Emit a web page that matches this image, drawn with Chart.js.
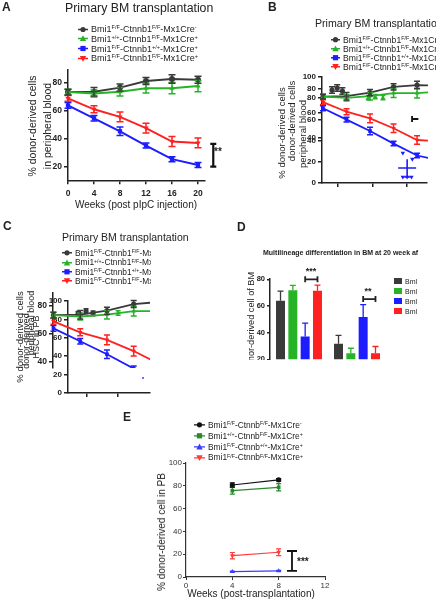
<!DOCTYPE html>
<html><head><meta charset="utf-8">
<script src="https://cdn.jsdelivr.net/npm/chart.js@4.4.1/dist/chart.umd.min.js"></script>
<style>
html,body{margin:0;padding:0;background:#fff;}
body{width:436px;height:600px;overflow:hidden;position:relative;font-family:"Liberation Sans",Arial,Helvetica,sans-serif;color:#222;}
canvas.full{position:absolute;left:0;top:0;}
.tx{position:absolute;white-space:nowrap;line-height:1;}
sup{font-size:62%;vertical-align:0;position:relative;top:-0.55em;line-height:0;}
.clip{position:absolute;overflow:hidden;left:0;top:0;}
.leg{position:absolute;white-space:nowrap;line-height:1;display:flex;align-items:center;overflow:hidden;}
.leg svg{margin-right:3px;flex:none;}
</style></head><body>
<script>
const FONT = '"Liberation Sans", Arial, sans-serif';

// ================= DATA =================
// Panel A (and the overlaid copies in B and C)
const weeksA = [0, 4, 8, 12, 16, 20];
const ctrlA = [73.5, 73.8, 76.7, 81.4, 82.9, 82.3];
const ctrlAErr = [2, 3, 2.5, 2.5, 3, 2.5];
const bmiWtA = [73.5, 72.5, 73.8, 76.3, 76.3, 77.8];
const bmiWtAErr = [2, 2.5, 3, 3.5, 4, 4];
const ctnnbWtA = [64, 54.8, 45.5, 35.3, 25.6, 21.5];
const ctnnbWtAErr = [2, 2, 3, 1.8, 1.8, 1.8];
const dkoA = [69, 61.2, 55.8, 47.8, 38.2, 37.2];
const dkoAErr = [2, 2.5, 3.5, 3.5, 3.5, 3.5];
const yTicksA = [20, 40, 60, 80];

// Legend labels
const namesA = [
  'Bmi1<sup>F/F</sup>-Ctnnb1<sup>F/F</sup>-Mx1Cre<sup>-</sup>',
  'Bmi1<sup>+/+</sup>-Ctnnb1<sup>F/F</sup>-Mx1Cre<sup>+</sup>',
  'Bmi1<sup>F/F</sup>-Ctnnb1<sup>+/+</sup>-Mx1Cre<sup>+</sup>',
  'Bmi1<sup>F/F</sup>-Ctnnb1<sup>F/F</sup>-Mx1Cre<sup>+</sup>'
];
const namesE = [
  'Bmi1<sup>F/F</sup>-Ctnnb<sup>F/F</sup>-Mx1Cre<sup>-</sup>',
  'Bmi1<sup>+/+</sup>-Ctnnb<sup>F/F</sup>-Mx1Cre<sup>+</sup>',
  'Bmi1<sup>F/F</sup>-Ctnnb<sup>+/+</sup>-Mx1Cre<sup>+</sup>',
  'Bmi1<sup>F/F</sup>-Ctnnb<sup>F/F</sup>-Mx1Cre<sup>+</sup>'
];
const namesD = ['Bml', 'Bml', 'Bml', 'Bml'];

// Panel B: main axis ticks and stray marks on its own scale
const yTicksB = [0, 20, 40, 60, 80, 100];
const xTicksB = [4, 8, 12];
const yTicksOverlay = [40, 60, 80];
const bStrayBlackX = [3.3, 3.9, 4.5];
const bStrayBlackY = [87.7, 89.6, 86.8];
const bStrayGreenX = [7.5, 8.3, 9.2];
const bStrayGreenY = [80.5, 81.5, 80.5];
const bStrayBlueX = [11.5, 12.6, 11.5, 12.0, 12.5];
const bStrayBlueY = [28.3, 22.6, 5.7, 5.7, 5.7];

// Panel C: main axis ticks and stray marks
const yTicksC = [0, 20, 40, 60, 80, 100];
const xTicksC = [4, 8];
const cStrayBlackX = [2.84, 3.87, 4.77];
const cStrayBlackY = [86, 89, 86.5];
const cStrayGreenX = [8.0];
const cStrayGreenY = [87];
const cStrayBlueX = [11.2];
const cStrayBlueY = [16.3];

// Panel D: bars
const dCategories = ['Lineage 1', 'Lineage 2'];
const dCtrl = [63.9, 31.6];   const dCtrlErr = [7.3, 6.3];
const dBmiWt = [71.9, 24.5];  const dBmiWtErr = [3.6, 3.8];
const dCtnnbWt = [37.1, 51.8];const dCtnnbWtErr = [10.1, 9.3];
const dDko = [71.4, 24.5];    const dDkoErr = [4.3, 5.1];
const yTicksD = [20, 40, 60, 80];

// Panel E
const weeksE = [4, 8];
const ctrlE = [80.7, 85.2];   const ctrlEErr = [1.8, 1.2];
const bmiWtE = [75.7, 78.7];  const bmiWtEErr = [3, 3.2];
const ctnnbWtE = [4.7, 5.4];  const ctnnbWtEErr = [0.5, 0.5];
const dkoE = [18.7, 21.7];    const dkoEErr = [2.8, 3];
const xTicksE = [0, 4, 8, 12];
const yTicksE = [0, 20, 40, 60, 80, 100];

// ================= STYLE =================
const colA = ['#3a3a3a', '#27b327', '#1c1cff', '#ff2020'];
const colE = ['#111111', '#2a8a2a', '#3b3bff', '#ff3b3b'];
const shapesA = ['circle', 'triangle', 'rect', 'triangleDown'];
const shapesE = ['circle', 'rect', 'triangle', 'triangleDown'];

// ================= HELPERS =================
const errPlugin = {
  id: 'errbars',
  afterDatasetsDraw(chart) {
    const ctx = chart.ctx, ys = chart.scales.y, ca = chart.chartArea;
    chart.data.datasets.forEach((ds, i) => {
      if (!ds.errors) return;
      const meta = chart.getDatasetMeta(i);
      ctx.save();
      if (ds.errClip) { ctx.beginPath(); ctx.rect(ca.left - 8, ca.top - 8, ca.right - ca.left + 8, ca.bottom - ca.top + 8); ctx.clip(); }
      ctx.strokeStyle = ds.errColor || ds.borderColor;
      ctx.lineWidth = ds.errWidth || 1.5;
      meta.data.forEach((el, j) => {
        const e = ds.errors[j]; if (!e) return;
        const raw = ds.data[j]; const v = (typeof raw === 'object') ? raw.y : raw;
        const x = el.x, c = (ds.errCap || 7) / 2;
        const yt = ys.getPixelForValue(v + e), yb = ys.getPixelForValue(ds.errUp ? v : v - e);
        ctx.beginPath();
        ctx.moveTo(x, yt); ctx.lineTo(x, yb);
        ctx.moveTo(x - c, yt); ctx.lineTo(x + c, yt);
        if (!ds.errUp) { ctx.moveTo(x - c, yb); ctx.lineTo(x + c, yb); }
        ctx.stroke();
      });
      ctx.restore();
    });
  }
};

function marksPlugin(marks) {
  return {
    id: 'marks',
    afterDatasetsDraw(chart) {
      const ctx = chart.ctx, xs = chart.scales.x, ys = chart.scales.y;
      marks.forEach(m => {
        ctx.save(); ctx.strokeStyle = m.color || '#111'; ctx.lineWidth = m.w || 1.5;
        ctx.beginPath();
        const c = (m.cap || 6) / 2;
        if (m.t === 'vbar') {
          const x = xs.getPixelForValue(m.x), y1 = ys.getPixelForValue(m.y1), y2 = ys.getPixelForValue(m.y2);
          ctx.moveTo(x, y1); ctx.lineTo(x, y2);
          ctx.moveTo(x - c, y1); ctx.lineTo(x + c, y1); ctx.moveTo(x - c, y2); ctx.lineTo(x + c, y2);
        } else if (m.t === 'tee') {
          const x1 = xs.getPixelForValue(m.x1), x2 = xs.getPixelForValue(m.x2), y = ys.getPixelForValue(m.y);
          ctx.moveTo(x1, y - c); ctx.lineTo(x1, y + c); ctx.moveTo(x1, y); ctx.lineTo(x2, y);
        } else if (m.t === 'plus') {
          const x = xs.getPixelForValue(m.x), y = ys.getPixelForValue(m.y);
          const y1 = ys.getPixelForValue(m.y1), y2 = ys.getPixelForValue(m.y2);
          ctx.moveTo(x - c, y); ctx.lineTo(x + c, y); ctx.moveTo(x, y1); ctx.lineTo(x, y2);
          ctx.moveTo(x - 3, y2); ctx.lineTo(x + 3, y2);
        } else if (m.t === 'barsBracket') {
          const e1 = chart.getDatasetMeta(m.ds1).data[m.i1], e2 = chart.getDatasetMeta(m.ds2).data[m.i2];
          const y = ys.getPixelForValue(m.y);
          ctx.moveTo(e1.x, y); ctx.lineTo(e2.x, y);
          ctx.moveTo(e1.x, y - c); ctx.lineTo(e1.x, y + c); ctx.moveTo(e2.x, y - c); ctx.lineTo(e2.x, y + c);
        }
        ctx.stroke(); ctx.restore();
      });
    }
  };
}

function ptStyle(s) { return s === 'triangleDown' ? 'triangle' : s; }
function ptRot(s) { return s === 'triangleDown' ? 180 : 0; }

function lineDS(xs, ys, errs, color, shape, extra) {
  return Object.assign({
    type: 'line',
    data: xs.map((x, i) => ({ x: x, y: ys[i] })),
    errors: errs,
    borderColor: color, backgroundColor: color,
    borderWidth: 2, pointRadius: 3, pointHoverRadius: 3,
    pointStyle: ptStyle(shape), pointRotation: ptRot(shape),
    pointBorderWidth: 0, tension: 0, fill: false, clip: false
  }, extra || {});
}
function strayDS(xs, ys, color, shape, extra) {
  return Object.assign({
    type: 'scatter', showLine: false,
    data: xs.map((x, i) => ({ x: x, y: ys[i] })),
    borderColor: color, backgroundColor: color,
    pointRadius: 2.6, pointStyle: ptStyle(shape), pointRotation: ptRot(shape), pointBorderWidth: 0, clip: false
  }, extra || {});
}

function makeChart(o) {
  const host = o.host || document.body;
  const cv = document.createElement('canvas');
  cv.width = 436; cv.height = 600; cv.className = 'full';
  host.appendChild(cv);
  const a = o.area;
  const tf = o.tickFont || { family: FONT, size: 8.5, weight: 'bold' };
  const ax = o.axisColor || '#222';
  const xDisp = o.x !== false, yDisp = o.y !== false;
  const grid = { display: true, drawOnChartArea: false, drawTicks: true, tickLength: o.tickLen || 4, color: ax, lineWidth: o.tickW || 1.5 };
  const scales = {};
  if (xDisp) {
    scales.x = {
      type: o.xType || 'linear', min: o.xMin, max: o.xMax, offset: false,
      afterFit: s => { s.height = 600 - a.b; },
      afterBuildTicks: s => { s.ticks = o.xTicks.map(v => ({ value: v })); },
      grid: grid,
      border: { display: o.xBorder !== false, color: ax, width: o.axisW || 1.5 },
      ticks: { font: tf, color: o.tickColor || '#222', padding: o.xPad != null ? o.xPad : 3, maxRotation: 0, autoSkip: false, callback: o.xCb || (v => String(v)) }
    };
  } else {
    scales.x = { type: o.xType || 'linear', min: o.xMin, max: o.xMax, display: false, offset: o.xOffset };
    if (o.xType === 'category') { delete scales.x.min; delete scales.x.max; }
  }
  if (yDisp) {
    scales.y = {
      type: 'linear', min: o.yMin, max: o.yMax,
      afterFit: s => { s.width = a.l; },
      afterBuildTicks: s => { s.ticks = o.yTicks.map(v => ({ value: v })); },
      grid: grid,
      border: { display: o.yBorder !== false, color: ax, width: o.axisW || 1.5 },
      ticks: { font: tf, color: o.tickColor || '#222', padding: o.yPad != null ? o.yPad : 2, callback: o.yCb || (v => String(v)) }
    };
  } else {
    scales.y = { type: 'linear', min: o.yMin, max: o.yMax, display: false };
  }
  return new Chart(cv, {
    type: o.type || 'line',
    data: { labels: o.labels, datasets: o.datasets },
    options: {
      responsive: false, animation: false, devicePixelRatio: 1,
      layout: { autoPadding: false, padding: { left: yDisp ? 0 : a.l, top: a.t, right: 436 - a.r, bottom: xDisp ? 0 : 600 - a.b } },
      plugins: { legend: { display: false }, tooltip: { enabled: false } },
      scales: scales,
      events: []
    },
    plugins: [errPlugin, marksPlugin(o.marks || [])]
  });
}

function svgMarker(c, s, w, lw) {
  const h = 8, cx = w / 2, cy = 4, r = 2.6;
  let m = '';
  if (s === 'circle') m = `<circle cx="${cx}" cy="${cy}" r="${r}" fill="${c}"/>`;
  else if (s === 'rect') m = `<rect x="${cx - r}" y="${cy - r}" width="${2 * r}" height="${2 * r}" fill="${c}"/>`;
  else if (s === 'triangle') m = `<polygon points="${cx},${cy - r - 0.6} ${cx + r + 0.6},${cy + r} ${cx - r - 0.6},${cy + r}" fill="${c}"/>`;
  else if (s === 'square') m = `<rect x="0" y="1" width="${w}" height="6" fill="${c}"/>`;
  else m = `<polygon points="${cx},${cy + r + 0.6} ${cx + r + 0.6},${cy - r} ${cx - r - 0.6},${cy - r}" fill="${c}"/>`;
  const ln = s === 'square' ? '' : `<line x1="0" y1="${cy}" x2="${w}" y2="${cy}" stroke="${c}" stroke-width="${lw || 1.6}"/>`;
  return `<svg width="${w}" height="${h}" viewBox="0 0 ${w} ${h}">${ln}${m}</svg>`;
}

function legend(o) {
  o.names.forEach((n, i) => {
    const d = document.createElement('div');
    d.className = 'leg';
    d.style.left = o.x + 'px';
    d.style.top = (o.y0 + i * o.dy) + 'px';
    d.style.fontSize = o.size + 'px';
    d.style.transform = 'translateY(-50%)';
    d.style.color = o.color || '#222';
    if (o.right) d.style.width = (o.right - o.x) + 'px';
    d.innerHTML = svgMarker(o.colors[i], o.shapes[i], o.w || 10, o.lw) + '<span>' + n + '</span>';
    (o.host || document.body).appendChild(d);
  });
}

function tx(x, y, html, size, opt) {
  opt = opt || {};
  const d = document.createElement('div');
  d.className = 'tx';
  d.innerHTML = html;
  d.style.left = x + 'px'; d.style.top = y + 'px';
  d.style.fontSize = size + 'px';
  if (opt.bold) d.style.fontWeight = 'bold';
  if (opt.color) d.style.color = opt.color;
  if (opt.rot) d.style.transform = 'translate(-50%,-50%) rotate(-90deg)';
  else if (opt.center) d.style.transform = 'translate(-50%,-50%)';
  else d.style.transform = 'translateY(-50%)';
  (opt.host || document.body).appendChild(d);
  return d;
}

// ================= PANEL A =================
makeChart({
  area: { l: 68, t: 69.7, r: 204.5, b: 180.3 },
  xMin: 0, xMax: 21, xTicks: weeksA, yMin: 10.5, yMax: 89.5, yTicks: yTicksA, xPad: 4,
  tickFont: { family: FONT, size: 8.5, weight: 'bold' },
  datasets: [
    lineDS(weeksA, ctnnbWtA, ctnnbWtAErr, colA[2], shapesA[2]),
    lineDS(weeksA, dkoA, dkoAErr, colA[3], shapesA[3]),
    lineDS(weeksA, bmiWtA, bmiWtAErr, colA[1], shapesA[1]),
    lineDS(weeksA, ctrlA, ctrlAErr, colA[0], shapesA[0])
  ],
  marks: [{ t: 'vbar', x: 22.35, y1: 20.3, y2: 36.5, cap: 6, color: '#111', w: 2.2 }]
});
tx(2, 7, 'A', 12, { bold: true });
tx(65, 8, 'Primary BM transplantation', 12.3);
legend({ x: 78, y0: 29, dy: 9.8, names: namesA, colors: colA, shapes: shapesA, size: 9, w: 10 });
tx(32, 126, '% donor-derived cells', 10.5, { rot: true });
tx(47, 126, 'in peripheral blood', 10.5, { rot: true });
tx(136, 205, 'Weeks (post pIpC injection)', 10, { center: true });
tx(214, 152, '**', 10, { bold: true });

// ================= PANEL B =================
// main (0-100) axis
makeChart({
  area: { l: 322, t: 77, r: 427, b: 183 },
  xMin: 2.14, xMax: 14.3, xTicks: xTicksB, xCb: () => '', yMin: 0, yMax: 100, yTicks: yTicksB,
  tickFont: { family: FONT, size: 8, weight: 'bold' },
  datasets: [
    strayDS(bStrayBlackX, bStrayBlackY, colA[0], 'circle', { errors: [3, 3, 3], errCap: 6 }),
    strayDS(bStrayGreenX, bStrayGreenY, colA[1], 'triangle', { errors: [2, 2, 2], errCap: 5 }),
    strayDS(bStrayBlueX, bStrayBlueY, colA[2], 'triangleDown')
  ],
  marks: [
    { t: 'plus', x: 12.0, y: 14.2, y1: 22.5, y2: 5.7, cap: 18, color: colA[2], w: 1.6 },
    { t: 'tee', x1: 12.57, x2: 13.3, y: 60.4, cap: 6, color: '#111', w: 1.8 }
  ]
});
// overlaid copy of panel A (own scale)
makeChart({
  area: { l: 322, t: 64, r: 428, b: 187 },
  x: false, xMin: -0.17, xMax: 17.86, yMin: 0, yMax: 100, yTicks: yTicksOverlay, yBorder: false,
  tickFont: { family: FONT, size: 8, weight: 'bold' },
  datasets: [
    lineDS(weeksA, ctnnbWtA, ctnnbWtAErr, colA[2], shapesA[2], { borderWidth: 1.8, pointRadius: 2.6, errCap: 6, clip: { left: 6, top: 6, right: 0, bottom: 6 }, errClip: true }),
    lineDS(weeksA, dkoA, dkoAErr, colA[3], shapesA[3], { borderWidth: 1.8, pointRadius: 2.6, errCap: 6, clip: { left: 6, top: 6, right: 0, bottom: 6 }, errClip: true }),
    lineDS(weeksA, bmiWtA, bmiWtAErr, colA[1], shapesA[1], { borderWidth: 1.8, pointRadius: 2.6, errCap: 6, clip: { left: 6, top: 6, right: 0, bottom: 6 }, errClip: true }),
    lineDS(weeksA, ctrlA, ctrlAErr, colA[0], shapesA[0], { borderWidth: 1.8, pointRadius: 2.6, errCap: 6, clip: { left: 6, top: 6, right: 0, bottom: 6 }, errClip: true })
  ]
});
tx(268, 7, 'B', 12, { bold: true });
tx(315, 23, 'Primary BM transplantation', 10.6);
legend({ x: 331, y0: 39.5, dy: 9.2, names: namesA, colors: colA, shapes: shapesA, size: 8.6, w: 9 });
tx(282, 133, '% donor-derived cells', 9.5, { rot: true });
tx(292, 121, 'donor-derived cells', 9.5, { rot: true });
tx(303, 134, 'peripheral blood', 9.5, { rot: true });

// ================= PANEL C =================
makeChart({
  area: { l: 68, t: 301, r: 150, b: 393 },
  xMin: 1.55, xMax: 12.1, xTicks: xTicksC, xCb: () => '', yMin: 0, yMax: 100, yTicks: yTicksC,
  tickFont: { family: FONT, size: 8, weight: 'bold' },
  datasets: [
    strayDS(cStrayBlackX, cStrayBlackY, colA[0], 'circle', { errors: [2.5, 2.5, 2.5], errCap: 5 }),
    strayDS(cStrayGreenX, cStrayGreenY, colA[1], 'triangle', { errors: [2.5], errCap: 5 }),
    strayDS(cStrayBlueX, cStrayBlueY, colA[2], 'rect', { pointRadius: 1.2 })
  ]
});
makeChart({
  area: { l: 53, t: 293, r: 150, b: 368 },
  x: false, xMin: -0.07, xMax: 14.44, yMin: 35.7, yMax: 89.3, yTicks: yTicksOverlay,
  tickFont: { family: FONT, size: 8.5, weight: 'bold' },
  datasets: [
    lineDS(weeksA, ctnnbWtA, ctnnbWtAErr, colA[2], shapesA[2], { borderWidth: 1.8, pointRadius: 2.6, errCap: 6, clip: { left: 6, top: 6, right: 0, bottom: 0 }, errClip: true }),
    lineDS(weeksA, dkoA, dkoAErr, colA[3], shapesA[3], { borderWidth: 1.8, pointRadius: 2.6, errCap: 6, clip: { left: 6, top: 6, right: 0, bottom: 0 }, errClip: true }),
    lineDS(weeksA, bmiWtA, bmiWtAErr, colA[1], shapesA[1], { borderWidth: 1.8, pointRadius: 2.6, errCap: 6, clip: { left: 6, top: 6, right: 0, bottom: 0 }, errClip: true }),
    lineDS(weeksA, ctrlA, ctrlAErr, colA[0], shapesA[0], { borderWidth: 1.8, pointRadius: 2.6, errCap: 6, clip: { left: 6, top: 6, right: 0, bottom: 0 }, errClip: true })
  ]
});
tx(3, 226, 'C', 12, { bold: true });
tx(62, 237, 'Primary BM transplantation', 10.5);
legend({ x: 62, y0: 253, dy: 9.4, names: namesA, colors: colA, shapes: shapesA, size: 8.4, w: 10, right: 151 });
tx(20, 337, '% donor-derived cells', 9.5, { rot: true });
tx(26, 341, 'donor-derived', 9, { rot: true });
tx(31, 323, 'peripheral blood', 9, { rot: true });
tx(36, 337, 'HSC in PB', 9, { rot: true });

// ================= PANEL D =================
const clipD = document.createElement('div');
clipD.className = 'clip'; clipD.style.width = '436px'; clipD.style.height = '360px';
document.body.appendChild(clipD);
function barDS(vals, errs, color) {
  return { type: 'bar', data: vals, errors: errs, errUp: true, errCap: 6, errWidth: 1.3, errColor: color,
    backgroundColor: color, borderColor: color, borderWidth: 0, categoryPercentage: 0.85, barPercentage: 0.73 };
}
makeChart({
  host: clipD, type: 'bar', labels: dCategories,
  area: { l: 270, t: 278.7, r: 386, b: 359.3 },
  x: false, xType: 'category', xOffset: true, yMin: 20, yMax: 80.5, yTicks: yTicksD,
  tickFont: { family: FONT, size: 7.5, weight: 'bold' }, tickLen: 3,
  datasets: [
    barDS(dCtrl, dCtrlErr, colA[0]),
    barDS(dBmiWt, dBmiWtErr, colA[1]),
    barDS(dCtnnbWt, dCtnnbWtErr, colA[2]),
    barDS(dDko, dDkoErr, colA[3])
  ],
  marks: [
    { t: 'barsBracket', ds1: 2, i1: 0, ds2: 3, i2: 0, y: 80, cap: 6, color: '#222', w: 1.8 },
    { t: 'barsBracket', ds1: 2, i1: 1, ds2: 3, i2: 1, y: 65.2, cap: 6, color: '#222', w: 1.8 }
  ]
});
tx(237, 227, 'D', 12, { bold: true });
tx(263, 252, 'Multilineage differentiation in BM at 20 week af', 7, { bold: true });
tx(252, 327, '% donor-derived cell of BM', 9.2, { rot: true, host: clipD });
tx(311, 271, '***', 9, { bold: true, center: true });
tx(368, 290.5, '**', 9, { bold: true, center: true });
legend({ x: 394, y0: 281, dy: 10, names: namesD, colors: colA, shapes: ['square', 'square', 'square', 'square'], size: 7, w: 8 });

// ================= PANEL E =================
makeChart({
  area: { l: 186, t: 463, r: 325, b: 577 },
  xMin: 0, xMax: 12, xTicks: xTicksE, yMin: 0, yMax: 100, yTicks: yTicksE, xPad: 1, yPad: 1,
  tickFont: { family: FONT, size: 8, weight: 'normal' }, tickLen: 3, tickW: 1, axisW: 1.2, axisColor: '#333', tickColor: '#333',
  datasets: [
    lineDS(weeksE, ctnnbWtE, ctnnbWtEErr, colE[2], shapesE[2], { borderWidth: 1.2, pointRadius: 2.6, errCap: 5, errWidth: 1.2 }),
    lineDS(weeksE, dkoE, dkoEErr, colE[3], shapesE[3], { borderWidth: 1.2, pointRadius: 2.8, errCap: 5, errWidth: 1.2 }),
    lineDS(weeksE, bmiWtE, bmiWtEErr, colE[1], shapesE[1], { borderWidth: 1.2, pointRadius: 2.6, errCap: 5, errWidth: 1.2 }),
    lineDS(weeksE, ctrlE, ctrlEErr, colE[0], shapesE[0], { borderWidth: 1.2, pointRadius: 2.6, errCap: 5, errWidth: 1.2 })
  ],
  marks: [{ t: 'vbar', x: 9.15, y1: 5.3, y2: 22.8, cap: 10, color: '#111', w: 1.8 }]
});
tx(123, 417, 'E', 12, { bold: true });
legend({ x: 194, y0: 425, dy: 10.8, names: namesE, colors: colE, shapes: shapesE, size: 8.4, w: 11, lw: 1.2 });
tx(162, 532, '% donor-derived cell in PB', 10, { rot: true });
tx(251, 594, 'Weeks (post-transplantation)', 10, { center: true });
tx(297, 562, '***', 10, { bold: true });
</script>
</body></html>
